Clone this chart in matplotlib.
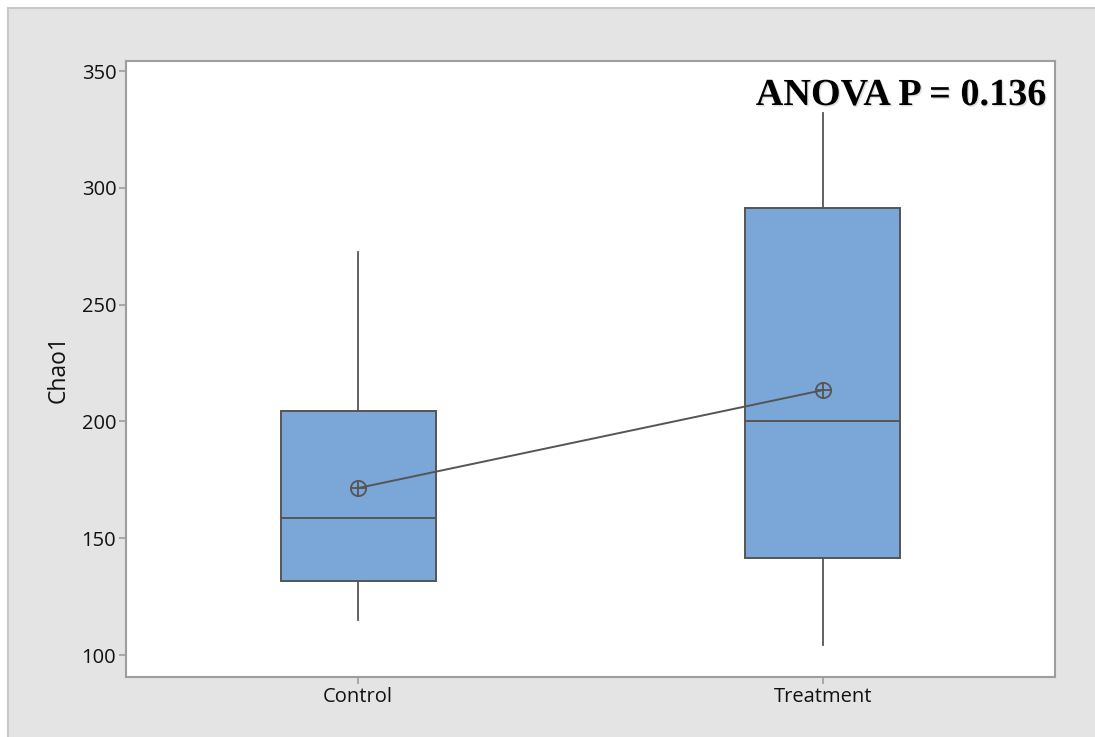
import matplotlib.pyplot as plt
import matplotlib.patheffects as pe
from matplotlib.patches import Rectangle

# box summary
groups = ["Control", "Treatment"]
q1 = [131.7, 141.5]
med = [158.6, 200.2]
q3 = [204.5, 291.4]
whislo = [115.0, 104.3]
whishi = [272.5, 332.0]
means = [171.5, 213.4]
yticks = [100, 150, 200, 250, 300, 350]
pval = "ANOVA P = 0.136"

plt.rcParams['font.family'] = ['Open Sans', 'DejaVu Sans']

fig = plt.figure(figsize=(10.95, 7.37), dpi=100)
fig.patch.set_facecolor('white')
# grey panel behind the plot
fig.patches.append(Rectangle((8/1095, -0.1), 1.2, (737-8)/737 + 0.1, transform=fig.transFigure,
                             facecolor='#e4e4e4', edgecolor='#c8c8c8', linewidth=1.5, zorder=-1))

ax = fig.add_axes([126/1095, 60/737, 929/1095, 616/737])
ax.set_facecolor('white')

lc = '#555555'
stats = []
for i in range(len(groups)):
    stats.append(dict(label=groups[i], q1=q1[i], med=med[i], q3=q3[i],
                      whislo=whislo[i], whishi=whishi[i], fliers=[]))
pos = [1, 2]
ax.bxp(stats, positions=pos, widths=0.334, showcaps=False, showfliers=False, patch_artist=True,
       boxprops=dict(facecolor='#7ba6d8', edgecolor=lc, linewidth=1.4),
       medianprops=dict(color=lc, linewidth=1.4),
       whiskerprops=dict(color=lc, linewidth=1.3))

ax.plot(pos, means, color=lc, linewidth=1.4, zorder=5)
ax.plot(pos, means, linestyle='none', marker='o', markersize=11, markerfacecolor='none',
        markeredgecolor=lc, markeredgewidth=1.3, zorder=6)
ax.plot(pos, means, linestyle='none', marker='+', markersize=11,
        markeredgecolor=lc, markeredgewidth=1.3, zorder=6)

ax.set_xlim(0.5, 2.5)
ax.set_ylim(90.6, 354.3)
ax.set_yticks(yticks)
ax.set_xticks(pos)
ax.set_xticklabels(groups)
ax.tick_params(axis='both', labelsize=14.5, color='#9e9e9e', length=5, width=1.2, pad=2,
               labelcolor='#111111')
for s in ax.spines.values():
    s.set_color('#9e9e9e')
    s.set_linewidth(1.5)
ax.set_ylabel("Chao1", fontsize=16.5, labelpad=8, color='#111111')

ax.text(0.991, 0.9286, pval, transform=ax.transAxes, ha='right', va='baseline',
        family='Liberation Serif', fontweight='bold', fontsize=27.5, color='black',
        path_effects=[pe.SimplePatchShadow(offset=(1, -1), shadow_rgbFace='#aaaaaa', alpha=0.4),
                      pe.Normal()])

fig.savefig('out.png', dpi=100)
